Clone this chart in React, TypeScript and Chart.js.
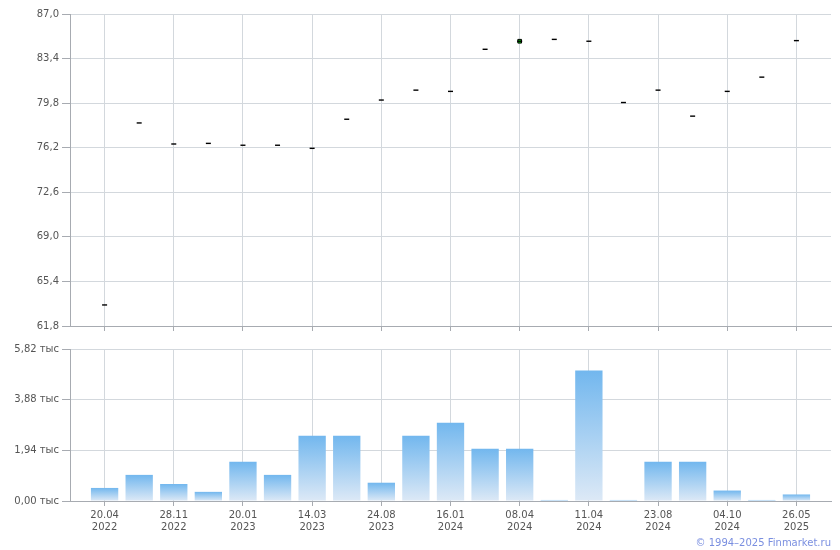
import React, { useEffect, useRef } from 'react';
import { Chart, registerables } from 'chart.js';

Chart.register(...registerables);

// ---- data ----
const prices = [63.5, 78.2, 76.5, 76.55, 76.4, 76.4, 76.15, 78.5, 80.05, 80.85, 80.75, 84.15, 84.8, 84.95, 84.8, 79.85, 80.85, 78.75, 80.75, 81.9, 84.85];
const volumes = [500, 1000, 650, 350, 1500, 1000, 2500, 2500, 700, 2500, 3000, 2000, 2000, 40, 5000, 40, 1500, 1500, 400, 40, 250];
const highlighted = [12];
const tickIndexes = [0, 2, 4, 6, 8, 10, 12, 14, 16, 18, 20];
const tickDates = ['20.04', '28.11', '20.01', '14.03', '24.08', '16.01', '08.04', '11.04', '23.08', '04.10', '26.05'];
const tickYears = ['2022', '2022', '2023', '2023', '2023', '2024', '2024', '2024', '2024', '2024', '2025'];
const priceTicks = [61.8, 65.4, 69.0, 72.6, 76.2, 79.8, 83.4, 87.0];
const volumeTicks = [0, 1940, 3880, 5820];

const FONT = { family: 'DejaVu Sans', size: 10 };
const GRID = '#d3d8dd';
const AXIS = '#a7abb1';
const TEXT = '#555555';

function xScale(showLabels: boolean, height: number) {
  return {
    type: 'linear',
    min: -1,
    max: 21,
    offset: false,
    afterBuildTicks: (s: any) => {
      s.ticks = tickIndexes.map((v) => ({ value: v }));
    },
    afterFit: (s: any) => {
      s.height = height;
    },
    grid: { color: GRID, tickLength: 5, tickColor: AXIS, offset: false },
    border: { color: AXIS },
    ticks: {
      display: showLabels,
      autoSkip: false,
      maxRotation: 0,
      padding: 3,
      color: TEXT,
      font: FONT,
      callback: (v: any) => {
        const k = tickIndexes.indexOf(Number(v));
        return k >= 0 ? [tickDates[k], tickYears[k]] : '';
      },
    },
  };
}

function yScale(tickVals: number[], fmt: (v: number) => string) {
  return {
    type: 'linear',
    min: tickVals[0],
    max: tickVals[tickVals.length - 1],
    afterBuildTicks: (s: any) => {
      s.ticks = tickVals.map((v) => ({ value: v }));
    },
    afterFit: (s: any) => {
      s.width = 70;
    },
    grid: { color: GRID, tickLength: 8, tickColor: AXIS },
    border: { color: AXIS },
    ticks: { color: TEXT, font: FONT, padding: 3, callback: (v: any) => fmt(Number(v)) },
  };
}

export default function App() {
  const topRef = useRef<HTMLCanvasElement>(null);
  const botRef = useRef<HTMLCanvasElement>(null);

  useEffect(() => {
    const top = new Chart(topRef.current as HTMLCanvasElement, {
      type: 'scatter',
      data: {
        datasets: [
          {
            data: prices.map((p, i) => ({ x: i, y: p })),
            pointStyle: 'line',
            radius: 2.5,
            borderWidth: 1.4,
            borderColor: '#000',
            backgroundColor: '#000',
          } as any,
          {
            data: highlighted.map((i) => ({ x: i, y: prices[i] })),
            pointStyle: 'rect',
            radius: 2.6,
            borderWidth: 1,
            borderColor: '#000',
            backgroundColor: '#00d000',
          } as any,
        ],
      },
      options: {
        animation: false,
        responsive: false,
        layout: { padding: { left: 0, right: 9, top: 14, bottom: 0 } },
        plugins: { legend: { display: false }, tooltip: { enabled: false } },
        scales: {
          x: xScale(false, 14) as any,
          y: yScale(priceTicks, (v) => v.toFixed(1).replace('.', ',')) as any,
        },
      },
    });

    const bot = new Chart(botRef.current as HTMLCanvasElement, {
      type: 'bar',
      data: {
        datasets: [
          {
            data: volumes.map((v, i) => ({ x: i, y: v })),
            barPercentage: 1,
            categoryPercentage: 0.79,
            borderWidth: 0,
            backgroundColor: (ctx: any) => {
              const chart = ctx.chart;
              if (!chart.chartArea || ctx.type !== 'data' || !chart.scales.y) return '#74b8ef';
              const ys = chart.scales.y;
              const t = ys.getPixelForValue(ctx.raw.y);
              const b = ys.getPixelForValue(0);
              if (b - t < 2) return '#92c4ef';
              const g = chart.ctx.createLinearGradient(0, t, 0, b);
              g.addColorStop(0, '#72b7ee');
              g.addColorStop(1, '#dde9f6');
              return g;
            },
          } as any,
        ],
      },
      options: {
        animation: false,
        responsive: false,
        layout: { padding: { left: 0, right: 9, top: 9, bottom: 0 } },
        plugins: { legend: { display: false }, tooltip: { enabled: false } },
        scales: {
          x: xScale(true, 49) as any,
          y: yScale(volumeTicks, (v) => (v / 1000).toFixed(2).replace('.', ',') + ' тыс') as any,
        },
      },
    });

    return () => {
      top.destroy();
      bot.destroy();
    };
  }, []);

  return (
    <div style={{ position: 'absolute', left: 0, top: 0, width: 840, height: 550, background: '#fff', overflow: 'hidden' }}>
      <canvas ref={topRef} width={840} height={340} style={{ position: 'absolute', left: 0, top: 0 }} />
      <canvas ref={botRef} width={840} height={210} style={{ position: 'absolute', left: 0, top: 340 }} />
      <div
        style={{
          position: 'absolute',
          right: 9,
          top: 537,
          font: '10px "DejaVu Sans"',
          lineHeight: '12px',
          color: '#7a8fe0',
          whiteSpace: 'nowrap',
        }}
      >
        © 1994–2025 Finmarket.ru
      </div>
    </div>
  );
}
